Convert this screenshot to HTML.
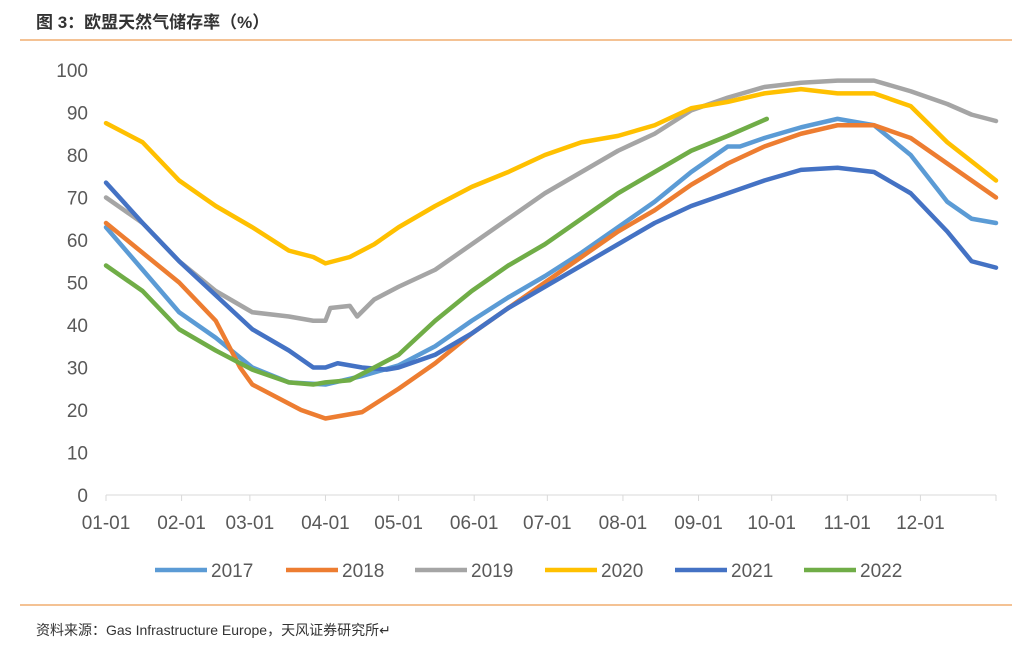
<!DOCTYPE html>
<html><head><meta charset="utf-8">
<style>
body{margin:0;background:#fff;width:1012px;height:658px;overflow:hidden;font-family:"Liberation Sans","Noto Sans CJK SC",sans-serif;}
</style></head><body>
<svg width="1012" height="658" style="position:absolute;left:0;top:0">
<text x="36" y="28" font-size="17" font-weight="bold" fill="#333" font-family="Liberation Sans,Noto Sans CJK SC,sans-serif">图 3：欧盟天然气储存率（%）</text>
<line x1="20" y1="40" x2="1012" y2="40" stroke="#E8862A" stroke-width="1"/>
<line x1="20" y1="605" x2="1012" y2="605" stroke="#E8862A" stroke-width="1"/>
<text x="36" y="635" font-size="14" fill="#333" font-family="Liberation Sans,Noto Sans CJK SC,sans-serif">资料来源：Gas Infrastructure Europe，天风证券研究所↵</text>
<g id="axes"></g>
<g id="series"></g>
<g id="legend"></g>
</svg>
<script>
const years=["2017","2018","2019","2020","2021","2022"];
const colors=["#5B9BD5","#ED7D31","#A5A5A5","#FFC000","#4472C4","#70AD47"];
const monthLabels=["01-01","02-01","03-01","04-01","05-01","06-01","07-01","08-01","09-01","10-01","11-01","12-01"];
const monthDays=[0,31,59,90,120,151,181,212,243,273,304,334];
const yTicks=[0,10,20,30,40,50,60,70,80,90,100];
const d2017=[[0,63],[15,53],[30,43],[45,37],[60,30],[75,26.5],[90,26],[105,28],[120,30.5],[135,35],[150,41],[165,46.5],[180,51.5],[195,57],[210,63],[225,69],[240,76],[255,82],[260,82],[270,84],[285,86.5],[300,88.5],[315,87],[330,80],[345,69],[355,65],[365,64]];
const d2018=[[0,64],[15,57],[30,50],[45,41],[55,30],[60,26],[70,23],[80,20],[90,18],[100,19],[105,19.5],[120,25],[135,31],[150,38],[165,44],[180,50],[195,56],[210,62],[225,67],[240,73],[255,78],[270,82],[285,85],[300,87],[315,87],[330,84],[345,78],[365,70]];
const d2019=[[0,70],[15,64],[30,55],[45,48],[60,43],[75,42],[85,41],[90,41],[92,44],[100,44.5],[103,42],[110,46],[120,49],[135,53],[150,59],[165,65],[180,71],[195,76],[210,81],[225,85],[240,90.5],[255,93.5],[270,96],[285,97],[300,97.5],[315,97.5],[330,95],[345,92],[355,89.5],[365,88]];
const d2020=[[0,87.5],[15,83],[30,74],[45,68],[60,63],[75,57.5],[85,56],[90,54.5],[100,56],[110,59],[120,63],[135,68],[150,72.5],[165,76],[180,80],[195,83],[210,84.5],[225,87],[240,91],[255,92.5],[270,94.5],[285,95.5],[300,94.5],[315,94.5],[330,91.5],[345,83],[365,74]];
const d2021=[[0,73.5],[15,64],[30,55],[45,47],[60,39],[75,34],[85,30],[90,30],[95,31],[105,30],[115,29.5],[120,30],[135,33],[150,38],[165,44],[180,49],[195,54],[210,59],[225,64],[240,68],[255,71],[270,74],[285,76.5],[300,77],[315,76],[330,71],[345,62],[355,55],[365,53.5]];
const d2022=[[0,54],[15,48],[30,39],[45,34],[60,29.5],[75,26.5],[85,26],[90,26.5],[100,27],[110,30],[120,33],[135,41],[150,48],[165,54],[180,59],[195,65],[210,71],[225,76],[240,81],[255,84.5],[271,88.5]];
const allData=[d2017,d2018,d2019,d2020,d2021,d2022];
const NS="http://www.w3.org/2000/svg";
const x=d=>106+d*(890/365);
const y=v=>495-v*4.25;
function mk(t,a){const e=document.createElementNS(NS,t);for(const k in a)e.setAttribute(k,a[k]);return e;}
const axes=document.getElementById('axes');
const axisLine=mk('line',{x1:106,y1:495,x2:996,y2:495,stroke:'#D9D9D9'});


axes.appendChild(axisLine);
yTicks.forEach(t=>{const e=mk('text',{x:88,y:y(t)+7,'font-size':19,fill:'#595959','text-anchor':'end'});e.textContent=t;


axes.appendChild(e);});
monthDays.concat([365]).forEach(d=>{const l=mk('line',{x1:x(d),y1:495,x2:x(d),y2:501,stroke:'#D9D9D9'});


axes.appendChild(l);});
monthLabels.forEach((m,i)=>{const e=mk('text',{x:x(monthDays[i]),y:529,'font-size':19,fill:'#595959','text-anchor':'middle'});e.textContent=m;


axes.appendChild(e);});
const ser=document.getElementById('series');
allData.forEach((d,i)=>{const p=mk('polyline',{points:d.map(q=>x(q[0])+','+y(q[1])).join(' '),fill:'none',stroke:colors[i],'stroke-width':4.5,'stroke-linejoin':'round','stroke-linecap':'round'});


ser.appendChild(p);});
const leg=document.getElementById('legend');
const lx=[155,286,415,545,675,804];
years.forEach((yr,i)=>{const g=mk('g',{});


g.appendChild(mk('line',{x1:lx[i],y1:570,x2:lx[i]+52,y2:570,stroke:colors[i],'stroke-width':4.5}));
const t=mk('text',{x:lx[i]+56,y:577,'font-size':19,fill:'#595959'});t.textContent=yr;g.appendChild(t);leg.appendChild(g);});
</script>
</body></html>
